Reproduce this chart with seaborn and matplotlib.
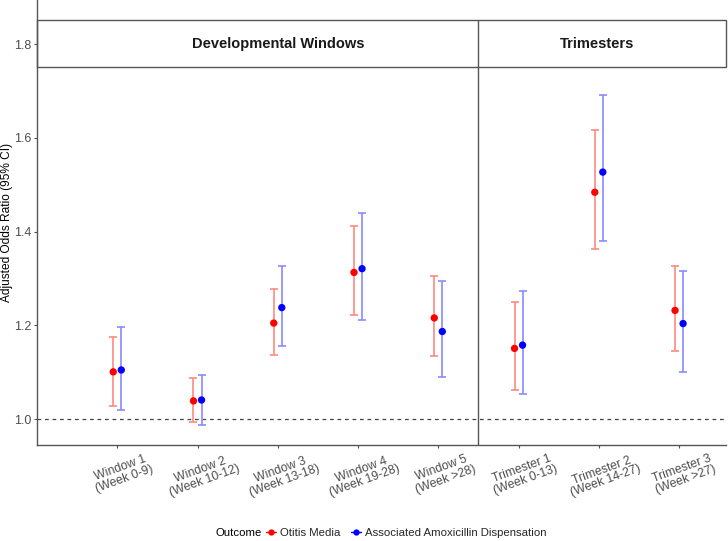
import numpy as np
import pandas as pd
import matplotlib
matplotlib.use("Agg")
import matplotlib.pyplot as plt
import matplotlib.transforms as mtransforms
import seaborn as sns
from matplotlib.lines import Line2D
from matplotlib.patches import Rectangle

# ---- data ----
periods = ["Window 1\n(Week 0-9)", "Window 2\n(Week 10-12)", "Window 3\n(Week 13-18)",
           "Window 4\n(Week 19-28)", "Window 5\n(Week >28)",
           "Trimester 1\n(Week 0-13)", "Trimester 2\n(Week 14-27)", "Trimester 3\n(Week >27)"]
panels = ["Developmental Windows"] * 5 + ["Trimesters"] * 3
outcomes = ["Otitis Media", "Associated Amoxicillin Dispensation"]
om_or = [1.101, 1.039, 1.205, 1.313, 1.216, 1.151, 1.484, 1.232]
om_lo = [1.028, 0.994, 1.136, 1.222, 1.134, 1.062, 1.364, 1.145]
om_hi = [1.176, 1.087, 1.277, 1.411, 1.305, 1.249, 1.616, 1.326]
amox_or = [1.105, 1.041, 1.238, 1.321, 1.187, 1.158, 1.527, 1.204]
amox_lo = [1.020, 0.987, 1.156, 1.211, 1.090, 1.053, 1.380, 1.101]
amox_hi = [1.196, 1.095, 1.327, 1.440, 1.294, 1.274, 1.691, 1.317]
y_ticks = [1.0, 1.2, 1.4, 1.6, 1.8]

colors = {"Otitis Media": "#FF0000", "Associated Amoxicillin Dispensation": "#0000FF"}
bar_colors = {"Otitis Media": "#FF8A80", "Associated Amoxicillin Dispensation": "#8A8AFF"}
dodge = {"Otitis Media": -0.05, "Associated Amoxicillin Dispensation": 0.05}

rows = []
for i, p in enumerate(periods):
    rows.append(dict(period=p, idx=i, panel=panels[i], outcome=outcomes[0], OR=om_or[i], lo=om_lo[i], hi=om_hi[i]))
    rows.append(dict(period=p, idx=i, panel=panels[i], outcome=outcomes[1], OR=amox_or[i], lo=amox_lo[i], hi=amox_hi[i]))
df = pd.DataFrame(rows)
df["x"] = df["idx"] + df["outcome"].map(dodge)

sns.set_theme(style="white")
plt.rcParams["font.family"] = ["Liberation Sans", "DejaVu Sans"]

fig = plt.figure(figsize=(7.28, 5.41), dpi=100)
ax = fig.add_axes([37 / 728, 96 / 541, (726 - 37) / 728, 445 / 541])

# reference line
ax.axhline(1.0, color="#444444", linestyle=(0, (3, 3)), linewidth=0.9, zorder=1)

for oc in outcomes:
    sub = df[df["outcome"] == oc]
    ax.errorbar(sub["x"], sub["OR"], yerr=[sub["OR"] - sub["lo"], sub["hi"] - sub["OR"]],
                fmt="none", ecolor=bar_colors[oc], elinewidth=1.2, capsize=3, capthick=1.2, zorder=2)

sns.scatterplot(data=df, x="x", y="OR", hue="outcome", palette=colors, hue_order=outcomes,
                s=28, edgecolor="none", legend=False, ax=ax, zorder=3)

ax.set_xlim(-1.0, 7.585)
ax.set_ylim(0.945, 1.894)
ax.set_yticks(y_ticks)
ax.set_yticklabels([f"{v:.1f}" for v in y_ticks])
ax.set_xticks(range(len(periods)))
ax.set_xticklabels(periods, rotation=20, ha="center", va="top", multialignment="center",
                   linespacing=0.95)
ax.tick_params(axis="both", colors="#4D4D4D", labelsize=9, length=2.5, width=0.8,
               bottom=True, left=True, pad=1.5)
ax.tick_params(axis="x", labelsize=8.8, pad=2.5)
offset = mtransforms.ScaledTranslation(5 / 100, 0, fig.dpi_scale_trans)
for lab in ax.get_xticklabels():
    lab.set_color("#4D4D4D")
    lab.set_transform(lab.get_transform() + offset)
for lab in ax.get_yticklabels():
    lab.set_color("#4D4D4D")
ax.set_xlabel("")
ax.set_ylabel("Adjusted Odds Ratio (95% CI)", fontsize=8.6, color="black")
ax.yaxis.set_label_coords(-24 / 689, 0.5)

for s in ["top", "right"]:
    ax.spines[s].set_visible(False)
for s in ["left", "bottom"]:
    ax.spines[s].set_color("#555555")
    ax.spines[s].set_linewidth(1.0)

# panel strip
strip_lo, strip_hi = 1.751, 1.851
x0, x1 = ax.get_xlim()
ax.add_patch(Rectangle((x0, strip_lo), x1 - x0 - 0.005, strip_hi - strip_lo, fill=False,
                       edgecolor="#555555", linewidth=1.0, zorder=4, clip_on=False))
sep = 4.5
ax.plot([sep, sep], [ax.get_ylim()[0], strip_hi], color="#555555", linewidth=1.0, zorder=4)
ax.text(2.0, (strip_lo + strip_hi) / 2, "Developmental Windows",
        ha="center", va="center", fontsize=10.5, fontweight="bold", color="#1A1A1A")
ax.text(5.98, (strip_lo + strip_hi) / 2, "Trimesters",
        ha="center", va="center", fontsize=10.5, fontweight="bold", color="#1A1A1A")

# legend
fig.text(215 / 728, 1 - 533 / 541, "Outcome", ha="left", va="center", fontsize=8.2, color="black")
handles = [Line2D([], [], marker="o", linestyle="-", linewidth=1.0, color=colors[o], markersize=3.5)
           for o in outcomes]
fig.legend(handles, outcomes, loc="center left", bbox_to_anchor=(266 / 728, 1 - 533 / 541),
           ncol=2, frameon=False, fontsize=8.2, handletextpad=0.35, columnspacing=0.9,
           handlelength=0.9, borderaxespad=0, borderpad=0)

fig.savefig("out.png", dpi=100)
